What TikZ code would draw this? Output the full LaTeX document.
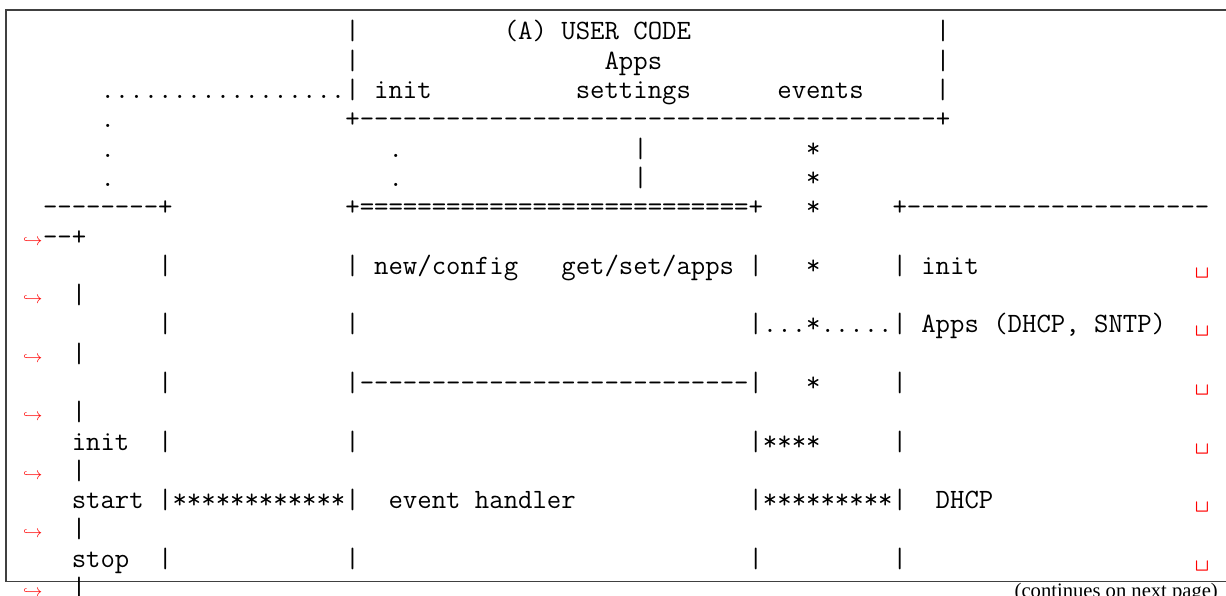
\documentclass[tikz,border=0pt]{standalone}
\usepackage{fontspec}
\newfontfamily\notefont{Liberation Serif}
% one blank character cell of the code font, and the red mark of a broken line
\newcommand\gap[1]{\hskip#1\fontcharwd\font`x\relax}
\newcommand\brk{\textcolor{red}{\textvisiblespace}}
\begin{document}
\begin{tikzpicture}[x=1pt,y=-1pt,
    codeline/.style={anchor=base west, inner sep=0pt,
      font=\fontsize{27.96}{29.29}\selectfont\ttfamily\frenchspacing},
    wrapmark/.style={anchor=base east, inner sep=0pt, text=red,
      font=\fontsize{16.5}{16.5}\selectfont}]

  \useasboundingbox (0,0) rectangle (1226,596);

  % frame of the code block
  \draw[black!75, line width=1.2pt] (1226,10) -- (6,10) -- (6,581.6) -- (1226,581.6);

  \begin{scope}[every node/.style={codeline}]
    \node (r1)  at (42.8,40)     {\gap{21}|\gap{10}(A) USER CODE\gap{17}|};
    \node (r2)  at (42.8,69.29)  {\gap{21}|\gap{17}Apps\gap{19}|};
    \node (r3)  at (42.8,98.58)  {\gap{4}.................| init\gap{10}settings\gap{6}events\gap{5}|};
    \node (r4)  at (42.8,127.87) {\gap{4}.\gap{16}+----------------------------------------+};
    \node (r5)  at (42.8,157.16) {\gap{4}.\gap{19}.\gap{16}|\gap{11}*};
    \node (r6)  at (42.8,186.45) {\gap{4}.\gap{19}.\gap{16}|\gap{11}*};
    \node (r7)  at (42.8,215.74) {--------+\gap{12}+===========================+\gap{3}*\gap{5}+---------------------};
    \node (r8)  at (42.8,245.03) {--+};
    \node (r9)  at (42.8,274.32) {\gap{8}|\gap{12}| new/config\gap{3}get/set/apps |\gap{3}*\gap{5}| init\gap{15}\brk};
    \node (r10) at (42.8,303.61) {\gap{2}|};
    \node (r11) at (42.8,332.9)  {\gap{8}|\gap{12}|\gap{27}|...*.....| Apps (DHCP, SNTP)\gap{2}\brk};
    \node (r12) at (42.8,362.19) {\gap{2}|};
    \node (r13) at (42.8,391.48) {\gap{8}|\gap{12}|---------------------------|\gap{3}*\gap{5}|\gap{20}\brk};
    \node (r14) at (42.8,420.77) {\gap{2}|};
    \node (r15) at (42.8,450.06) {\gap{2}init\gap{2}|\gap{12}|\gap{27}|****\gap{5}|\gap{20}\brk};
    \node (r16) at (42.8,479.35) {\gap{2}|};
    \node (r17) at (42.8,508.64) {\gap{2}start |************|\gap{2}event handler\gap{12}|*********|\gap{2}DHCP\gap{14}\brk};
    \node (r18) at (42.8,537.93) {\gap{2}|};
    \node (r19) at (42.8,567.22) {\gap{2}stop\gap{2}|\gap{12}|\gap{27}|\gap{9}|\gap{20}\brk};
    \node (r20) at (42.8,596.51) {\gap{2}|};
  \end{scope}

  \begin{scope}[every node/.style={wrapmark}]
    \node (w8)  at (42.5,245.03) {$\hookrightarrow$};
    \node (w10) at (42.5,303.61) {$\hookrightarrow$};
    \node (w12) at (42.5,362.19) {$\hookrightarrow$};
    \node (w14) at (42.5,420.77) {$\hookrightarrow$};
    \node (w16) at (42.5,479.35) {$\hookrightarrow$};
    \node (w18) at (42.5,537.93) {$\hookrightarrow$};
    \node (w20) at (42.5,596.51) {$\hookrightarrow$};
  \end{scope}

  \node[anchor=base east, inner sep=0pt, font=\notefont\fontsize{20.6}{20.6}\selectfont]
    (more) at (1218,597) {(continues on next page)};

\end{tikzpicture}
\end{document}
